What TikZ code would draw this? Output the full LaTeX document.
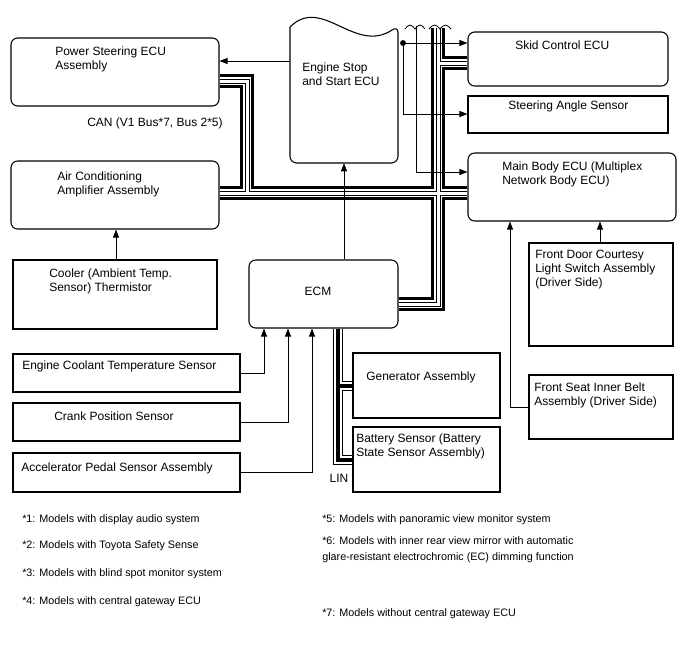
\documentclass[tikz,border=0pt]{standalone}
\usepackage{fontspec}
\setmainfont{Liberation Sans}
\usetikzlibrary{arrows.meta,fit}

\begin{document}
\begin{tikzpicture}[x=0.75pt,y=-0.75pt,
  font=\fontsize{9}{10.5}\selectfont,
  ecu/.style={draw,inner sep=0pt,rounded corners=5pt,line width=0.8pt},
  unit/.style={draw,inner sep=0pt,line width=0.8pt},
  lbl/.style={anchor=base west,align=left,inner sep=0pt},
  note/.style={anchor=base west,align=left,inner sep=0pt,
               font=\fontsize{8.1}{12}\selectfont},
  sig/.style={-{Triangle[length=6pt,width=4.5pt]},line width=0.6pt},
  canbus/.style={line width=10.5pt,
    postaction={draw,white,line width=6pt},
    postaction={draw,black,line width=3.75pt},
    postaction={draw,white,line width=2.25pt}},
  linbus/.style={line width=7.5pt,
    postaction={draw,white,line width=6pt},
    postaction={draw,black,line width=3pt}}]
  \useasboundingbox (0,0) rectangle (688,658);

  % boxes
  \node[ecu,fit={(11,38) (219,106)}] (ps) {};
  \node[ecu,fit={(11,161) (219,229)}] (ac) {};
  \node[unit,fit={(13,260) (217,329)}] (cool) {};
  \node[ecu,fit={(249,260) (398,328)}] (ecm) {};
  \node[unit,fit={(13,354) (240,392)}] (ect) {};
  \node[unit,fit={(13,403) (240,441)}] (ckp) {};
  \node[unit,fit={(13,453) (240,492)}] (app) {};
  \node[unit,fit={(353,353) (500,418)}] (gen) {};
  \node[unit,fit={(353,427) (500,492)}] (bat) {};
  \node[ecu,fit={(468,32) (668,86)}] (skid) {};
  \node[unit,fit={(468,96) (668,133)}] (sas) {};
  \node[ecu,fit={(468,153) (676,221)}] (mb) {};
  \node[unit,fit={(529,243) (673,346)}] (door) {};
  \node[unit,fit={(529,375) (673,439)}] (belt) {};
  \node[inner sep=0pt,fit={(290,17) (398,163)}] (ess) {};
  \draw[line width=0.8pt,rounded corners=5pt,line cap=round]
    (290,27) -- (290,163) -- (398,163) -- (398,26)
    .. controls (355,55) and (322,-5) .. (290,27);

  % texts (base = last line)
  \node[lbl] (ps-l) at (55,69) {Power Steering ECU\\Assembly};
  \node[lbl] (ess-l) at (302,85) {Engine Stop\\and Start ECU};
  \node[lbl] (skid-l) at (515,49) {Skid Control ECU};
  \node[lbl] (sas-l) at (508,109) {Steering Angle Sensor};
  \node[lbl] (mb-l) at (502,184) {Main Body ECU (Multiplex\\Network Body ECU)};
  \node[lbl] (can-l) at (87,126) {CAN (V1 Bus*7, Bus 2*5)};
  \node[lbl] (ac-l) at (57,194) {Air Conditioning\\Amplifier Assembly};
  \node[lbl] (cool-l) at (49,291) {Cooler (Ambient Temp.\\Sensor) Thermistor};
  \node[anchor=base,inner sep=0pt] (ecm-l) at (318,295) {ECM};
  \node[lbl] (ect-l) at (22,369) {Engine Coolant Temperature Sensor};
  \node[lbl] (ckp-l) at (54,420) {Crank Position Sensor};
  \node[lbl] (app-l) at (21,471) {Accelerator Pedal Sensor Assembly};
  \node[lbl] (gen-l) at (366,380) {Generator Assembly};
  \node[lbl] (bat-l) at (356,456) {Battery Sensor (Battery\\State Sensor Assembly)};
  \node[anchor=base,inner sep=0pt] (lin-l) at (339,482) {LIN};
  \node[lbl] (door-l) at (535,286) {Front Door Courtesy\\Light Switch Assembly\\(Driver Side)};
  \node[lbl] (belt-l) at (534,405) {Front Seat Inner Belt\\Assembly (Driver Side)};

  % buses
  \draw[canbus] (ps.east |- 0,81) -- (247,81) -- (247,193)
    (ac.east |- 0,193) -- (mb.west |- 0,193)
    (438,28) -- (438,304) -- (ecm.east |- 0,304)
    (438,63) -- (skid.west |- 0,63);
  \draw[linbus] (ecm.south -| 338,0) -- (338,460) -- (bat.west |- 0,460)
    (338,386) -- (gen.west |- 0,386);

  % signal lines
  \draw[sig] (ess.west |- 0,61) -- (ps.east |- 0,61);
  \draw[sig] (ecm.north -| 344,0) -- (ess.south -| 344,0);
  \coordinate (tap) at (403,43);
  \coordinate (cut) at (416,26);
  \draw[sig] (tap) -- (skid.west |- tap);
  \draw[sig] (tap) |- (sas.west |- 0,114);
  \fill (tap) circle[radius=2.2pt];
  \draw[sig] (cut) |- (mb.west |- 0,172);
  \draw[line width=0.6pt] (405,29) sin (410,25) cos (415,29) sin (420,25) cos (425,29);
  \draw[line width=0.6pt] (429,29) sin (434.5,25) cos (440,29) sin (445.5,25) cos (451,29);
  \draw[sig] (cool.north -| 116,0) -- (ac.south -| 116,0);
  \draw[sig] (ect.east |- 0,373) -| (ecm.south -| 264,0);
  \draw[sig] (ckp.east |- 0,422) -| (ecm.south -| 288,0);
  \draw[sig] (app.east |- 0,472) -| (ecm.south -| 312,0);
  \draw[sig] (door.north -| 600,0) -- (mb.south -| 600,0);
  \draw[sig] (belt.west |- 0,407) -| (mb.south -| 510,0);

  % notes
  \node[note] (n1) at (22,522) {*1: Models with display audio system};
  \node[note] (n2) at (22,548) {*2: Models with Toyota Safety Sense};
  \node[note] (n3) at (22,576) {*3: Models with blind spot monitor system};
  \node[note] (n4) at (22,604) {*4: Models with central gateway ECU};
  \node[note] (n5) at (322,522) {*5: Models with panoramic view monitor system};
  \node[note] (n6) at (322,560) {*6: Models with inner rear view mirror with automatic\\glare-resistant electrochromic (EC) dimming function};
  \node[note] (n7) at (322,616) {*7: Models without central gateway ECU};
\end{tikzpicture}
\end{document}
